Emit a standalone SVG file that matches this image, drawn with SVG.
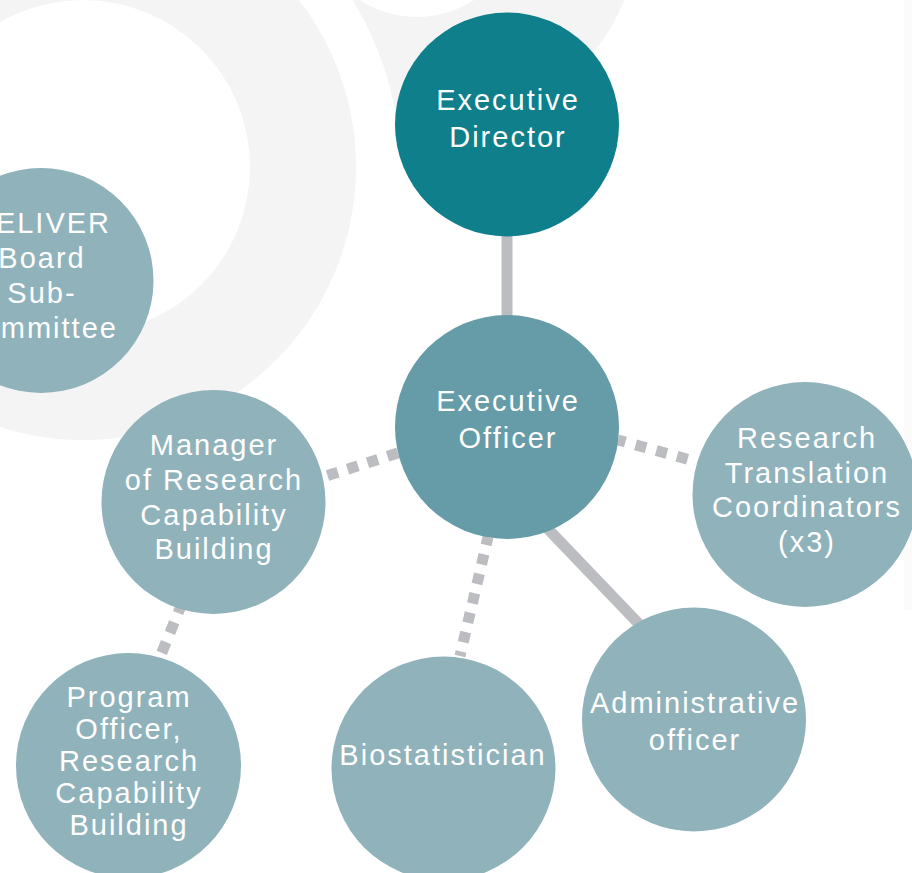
<svg xmlns="http://www.w3.org/2000/svg" width="912" height="873" viewBox="0 0 912 873">
  <style>
    .bg { fill: #f4f4f4; }
    .hole { fill: #ffffff; }
    .conn { stroke: #bcbdc1; stroke-width: 11; fill: none; stroke-linecap: butt; }
    .dark { fill: #107f8c; }
    .mid { fill: #669ba8; }
    .light { fill: #8fb2bb; }
    .lbl { font-family: "Liberation Sans", Arial, sans-serif; font-size: 29px; fill: #ffffff; text-anchor: middle; letter-spacing: 2px; }
  </style>
  <rect x="0" y="0" width="912" height="873" fill="#ffffff"/>
  <g id="background">
    <rect x="904" y="0" width="8" height="610" fill="#fbfbfb"/>
    <circle cx="417" cy="-87" r="164.5" fill="none" stroke="#f4f4f4" stroke-width="121"/>
    <circle class="hole" cx="83" cy="167" r="317"/>
    <circle class="bg" cx="83" cy="167" r="273"/>
    <circle class="hole" cx="83" cy="167" r="167"/>
  </g>
  <g id="connectors">
    <line class="conn" x1="507" y1="230" x2="507" y2="320"/>
    <line class="conn" x1="540" y1="520.6" x2="650" y2="635.5"/>
    <line class="conn" x1="618" y1="440" x2="694" y2="461" stroke-dasharray="11 10.5" stroke-dashoffset="3.3"/>
    <line class="conn" x1="398" y1="453" x2="323" y2="477" stroke-dasharray="11 10"/>
    <line class="conn" x1="488" y1="537" x2="460" y2="656" stroke-dasharray="10.5 9.5" stroke-dashoffset="2.3"/>
    <line class="conn" x1="180.5" y1="607" x2="158" y2="662" stroke-dasharray="11.5 10" stroke-dashoffset="5"/>
  </g>
  <g id="executive-director">
    <circle class="dark" cx="507" cy="124.5" r="112"/>
    <text class="lbl" x="508" y="110">Executive</text>
    <text class="lbl" x="508" y="147">Director</text>
  </g>
  <g id="executive-officer">
    <circle class="mid" cx="507" cy="427" r="112"/>
    <text class="lbl" x="508" y="411">Executive</text>
    <text class="lbl" x="508" y="448">Officer</text>
  </g>
  <g id="deliver-board">
    <circle class="light" cx="41" cy="280.5" r="112.5"/>
    <text class="lbl" x="42" y="233">DELIVER</text>
    <text class="lbl" x="42" y="268">Board</text>
    <text class="lbl" x="42" y="303">Sub-</text>
    <text class="lbl" x="42" y="338">committee</text>
  </g>
  <g id="manager-rcb">
    <circle class="light" cx="213.5" cy="502" r="112"/>
    <text class="lbl" x="214" y="455">Manager</text>
    <text class="lbl" x="214" y="490">of Research</text>
    <text class="lbl" x="214" y="525">Capability</text>
    <text class="lbl" x="214" y="559">Building</text>
  </g>
  <g id="research-translation">
    <circle class="light" cx="805" cy="494.5" r="112.5"/>
    <text class="lbl" x="807" y="448">Research</text>
    <text class="lbl" x="807" y="483">Translation</text>
    <text class="lbl" x="807" y="517">Coordinators</text>
    <text class="lbl" x="807" y="552">(x3)</text>
  </g>
  <g id="administrative-officer">
    <circle class="light" cx="694" cy="719.5" r="112"/>
    <text class="lbl" x="695" y="713">Administrative</text>
    <text class="lbl" x="695" y="750">officer</text>
  </g>
  <g id="biostatistician">
    <circle class="light" cx="443.5" cy="768.5" r="112"/>
    <text class="lbl" x="443" y="765">Biostatistician</text>
  </g>
  <g id="program-officer">
    <circle class="light" cx="128.5" cy="765.5" r="112.5"/>
    <text class="lbl" x="129" y="707">Program</text>
    <text class="lbl" x="129" y="739">Officer,</text>
    <text class="lbl" x="129" y="771">Research</text>
    <text class="lbl" x="129" y="803">Capability</text>
    <text class="lbl" x="129" y="835">Building</text>
  </g>
</svg>
